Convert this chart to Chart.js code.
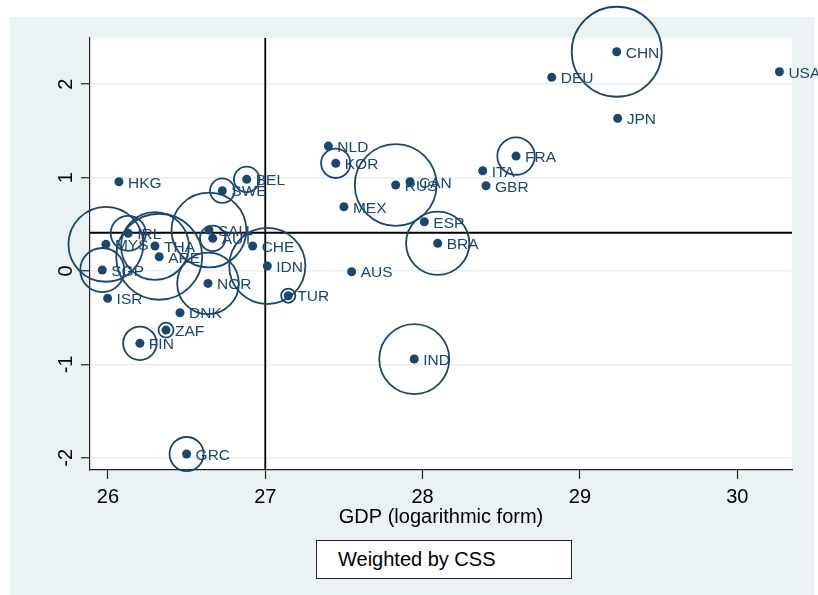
<!DOCTYPE html>
<html><head><meta charset="utf-8">
<script src="https://cdn.jsdelivr.net/npm/chart.js@4/dist/chart.umd.min.js"></script>
<style>
html,body{margin:0;padding:0;background:#fff;}
#wrap{position:relative;width:818px;height:595px;overflow:hidden;}
#bg{position:absolute;left:10px;top:17px;width:804px;height:578px;background:#eaf2f3;}
#c{position:absolute;left:0;top:0;}
#legend{position:absolute;left:316px;top:540px;width:256px;height:39px;box-sizing:border-box;border:1px solid #222;background:#fff;font:20px "Liberation Sans",Arial,sans-serif;line-height:37px;padding-left:21px;color:#000;}
</style></head>
<body><div id="wrap"><div id="bg"></div><canvas id="c" width="818" height="595"></canvas><div id="legend"></div></div>
<script>
// ---- data ----
const countries = ['CHN','DEU','USA','JPN','FRA','ITA','GBR','NLD','KOR','RUS','CAN','MEX','ESP','BRA','AUS','IND','TUR','IDN','CHE','HKG','BEL','SWE','SAU','AUT','IRL','MYS','THA','ARE','SGP','ISR','NOR','DNK','ZAF','FIN','GRC'];
const gdpLog = [29.234,28.821,30.268,29.240,28.594,28.382,28.403,27.401,27.448,27.829,27.920,27.500,28.011,28.096,27.549,27.947,27.146,27.013,26.920,26.070,26.882,26.727,26.642,26.666,26.129,25.987,26.299,26.326,25.964,25.998,26.636,26.458,26.369,26.203,26.500];
const yValues = [2.348,2.074,2.134,1.635,1.231,1.074,0.913,1.338,1.153,0.921,0.956,0.688,0.528,0.297,-0.007,-0.942,-0.264,0.054,0.268,0.956,0.982,0.860,0.439,0.350,0.404,0.286,0.268,0.153,0.011,-0.292,-0.132,-0.446,-0.632,-0.774,-1.959];
const cssWeight = [81,0,0,0,14,0,0,0,8.6,67,0,0,0,40,0,49,2,58,0,0,6.5,6,56,6.5,12.3,56,46,74,19.4,0,38,0,2.25,11.2,11.6];
const xTicks = [26,27,28,29,30];
const yTicks = [-2,-1,0,1,2];
const xRange = [25.886, 30.348];
const yRange = [-2.13, 2.495];
const refX = 27.0;
const refY = 0.41;
const xTitle = 'GDP (logarithmic form)';
const legendText = 'Weighted by CSS';

// ---- styles ----
const NAVY = '#1a476f';
const FONT = '"Liberation Sans", Arial, sans-serif';
document.getElementById('legend').textContent = legendText;

const dots = countries.map((c,i)=>({x:gdpLog[i], y:yValues[i]}));
const bubbles = countries.map((c,i)=>({x:gdpLog[i], y:yValues[i], r:5*Math.sqrt(cssWeight[i])}));

function zeroPad(s){ s.paddingLeft = 0; s.paddingRight = 0; s.paddingTop = 0; s.paddingBottom = 0; }

const plotBg = {
  id:'plotBg',
  beforeDraw(chart){
    const a = chart.chartArea, ctx = chart.ctx;
    ctx.save(); ctx.fillStyle = '#ffffff';
    ctx.fillRect(a.left, a.top, a.right-a.left, a.bottom-a.top);
    ctx.restore();
  }
};
const labelPlugin = {
  id:'pointLabels',
  afterDatasetsDraw(chart){
    const meta = chart.getDatasetMeta(0), ctx = chart.ctx;
    ctx.save();
    ctx.font = '15.5px ' + FONT;
    ctx.fillStyle = NAVY;
    ctx.textBaseline = 'middle';
    ctx.textAlign = 'left';
    meta.data.forEach((el,i)=>{ ctx.fillText(countries[i], el.x + 9, el.y + 1.5); });
    ctx.restore();
  }
};

new Chart(document.getElementById('c'), {
  type:'scatter',
  data:{ datasets:[
    { type:'scatter', data:dots, pointRadius:4.5, pointBackgroundColor:NAVY, pointBorderWidth:0, pointHoverRadius:4.5 },
    { type:'bubble', data:bubbles, backgroundColor:'rgba(0,0,0,0)', borderColor:NAVY, borderWidth:1.8, clip:false, hoverRadius:0 },
    { type:'scatter', showLine:true, data:[{x:refX,y:yRange[0]},{x:refX,y:yRange[1]}], borderColor:'#000', borderWidth:1.8, pointRadius:0 },
    { type:'scatter', showLine:true, data:[{x:xRange[0],y:refY},{x:xRange[1],y:refY}], borderColor:'#000', borderWidth:1.8, pointRadius:0 }
  ]},
  options:{
    responsive:false, animation:false, events:[], devicePixelRatio:1,
    layout:{ autoPadding:false, padding:{ left:0, top:38, right:26, bottom:0 } },
    plugins:{ legend:{display:false}, tooltip:{enabled:false} },
    scales:{
      x:{
        type:'linear', min:xRange[0], max:xRange[1],
        afterBuildTicks(s){ s.ticks = xTicks.map(v=>({value:v})); },
        afterFit(s){ s.height = 125; zeroPad(s); },
        grid:{ drawOnChartArea:false, drawTicks:true, tickLength:9, tickColor:'#222', tickWidth:1.2 },
        border:{ display:true, color:'#222', width:1.2 },
        ticks:{ color:'#000', font:{family:FONT, size:20}, padding:6, maxRotation:0, callback:v=>String(v) },
        title:{ display:true, text:xTitle, color:'#000', font:{family:FONT, size:20}, padding:{top:0,bottom:66} }
      },
      y:{
        type:'linear', min:yRange[0], max:yRange[1],
        afterBuildTicks(s){ s.ticks = yTicks.map(v=>({value:v})); },
        afterFit(s){ s.width = 90; zeroPad(s); },
        grid:{ color:'#e6eef0', lineWidth:1.5, drawTicks:true, tickLength:9, tickColor:'#222', tickWidth:1.2 },
        border:{ display:true, color:'#222', width:1.2 },
        ticks:{ color:'#000', font:{family:FONT, size:20}, padding:6, minRotation:90, maxRotation:90, crossAlign:'center', callback:v=>String(v) }
      }
    }
  },
  plugins:[plotBg, labelPlugin]
});
</script>
</body></html>
